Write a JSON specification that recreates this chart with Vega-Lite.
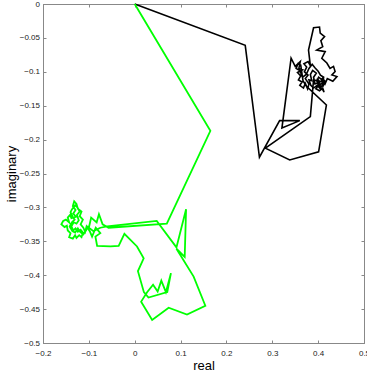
{
  "$schema": "https://vega.github.io/schema/vega-lite/v6.json",
  "width": 321,
  "height": 339,
  "autosize": {"type": "none"},
  "padding": {"left": 43, "top": 4, "right": 3, "bottom": 34},
  "background": "white",
  "config": {
    "view": {"stroke": "#888", "strokeWidth": 1},
    "axis": {
      "grid": false,
      "domainColor": "#888",
      "tickColor": "#888",
      "tickSize": -3,
      "labelFont": "Liberation Sans",
      "labelFontSize": 8,
      "labelColor": "#222",
      "labelOverlap": false,
      "labelFlush": false,
      "labelBound": false,
      "titleFont": "Liberation Sans",
      "titleFontSize": 13,
      "titleFontWeight": "normal",
      "titleColor": "#000"
    }
  },
  "datasets": {
    "black": [
      {"i": 0, "re": 0, "im": 0},
      {"i": 1, "re": 0.241, "im": -0.061},
      {"i": 2, "re": 0.272, "im": -0.226},
      {"i": 3, "re": 0.316, "im": -0.172},
      {"i": 4, "re": 0.36, "im": -0.172},
      {"i": 5, "re": 0.321, "im": -0.183},
      {"i": 6, "re": 0.341, "im": -0.08},
      {"i": 7, "re": 0.35, "im": -0.092},
      {"i": 8, "re": 0.361, "im": -0.085},
      {"i": 9, "re": 0.358, "im": -0.095},
      {"i": 10, "re": 0.366, "im": -0.097},
      {"i": 11, "re": 0.355, "im": -0.101},
      {"i": 12, "re": 0.362, "im": -0.106},
      {"i": 13, "re": 0.357, "im": -0.112},
      {"i": 14, "re": 0.365, "im": -0.115},
      {"i": 15, "re": 0.36, "im": -0.12},
      {"i": 16, "re": 0.368, "im": -0.124},
      {"i": 17, "re": 0.372, "im": -0.117},
      {"i": 18, "re": 0.377, "im": -0.125},
      {"i": 19, "re": 0.38, "im": -0.118},
      {"i": 20, "re": 0.372, "im": -0.11},
      {"i": 21, "re": 0.378, "im": -0.105},
      {"i": 22, "re": 0.37, "im": -0.1},
      {"i": 23, "re": 0.375, "im": -0.093},
      {"i": 24, "re": 0.369, "im": -0.088},
      {"i": 25, "re": 0.378, "im": -0.085},
      {"i": 26, "re": 0.383, "im": -0.091},
      {"i": 27, "re": 0.379, "im": -0.068},
      {"i": 28, "re": 0.39, "im": -0.035},
      {"i": 29, "re": 0.403, "im": -0.034},
      {"i": 30, "re": 0.4045, "im": -0.043},
      {"i": 31, "re": 0.414, "im": -0.048},
      {"i": 32, "re": 0.406, "im": -0.054},
      {"i": 33, "re": 0.41, "im": -0.063},
      {"i": 34, "re": 0.397, "im": -0.068},
      {"i": 35, "re": 0.4154, "im": -0.0702},
      {"i": 36, "re": 0.408, "im": -0.08},
      {"i": 37, "re": 0.419, "im": -0.087},
      {"i": 38, "re": 0.426, "im": -0.095},
      {"i": 39, "re": 0.4335, "im": -0.092},
      {"i": 40, "re": 0.437, "im": -0.0997},
      {"i": 41, "re": 0.43, "im": -0.1046},
      {"i": 42, "re": 0.441, "im": -0.107},
      {"i": 43, "re": 0.432, "im": -0.114},
      {"i": 44, "re": 0.42, "im": -0.11},
      {"i": 45, "re": 0.415, "im": -0.118},
      {"i": 46, "re": 0.41, "im": -0.112},
      {"i": 47, "re": 0.404, "im": -0.115},
      {"i": 48, "re": 0.398, "im": -0.11},
      {"i": 49, "re": 0.401, "im": -0.12},
      {"i": 50, "re": 0.395, "im": -0.125},
      {"i": 51, "re": 0.403, "im": -0.128},
      {"i": 52, "re": 0.41, "im": -0.124},
      {"i": 53, "re": 0.413, "im": -0.13},
      {"i": 54, "re": 0.406, "im": -0.122},
      {"i": 55, "re": 0.4, "im": -0.116},
      {"i": 56, "re": 0.393, "im": -0.118},
      {"i": 57, "re": 0.39, "im": -0.108},
      {"i": 58, "re": 0.396, "im": -0.102},
      {"i": 59, "re": 0.388, "im": -0.098},
      {"i": 60, "re": 0.383, "im": -0.104},
      {"i": 61, "re": 0.386, "im": -0.113},
      {"i": 62, "re": 0.38, "im": -0.112},
      {"i": 63, "re": 0.384, "im": -0.12},
      {"i": 64, "re": 0.39, "im": -0.124},
      {"i": 65, "re": 0.398, "im": -0.12},
      {"i": 66, "re": 0.405, "im": -0.125},
      {"i": 67, "re": 0.41, "im": -0.118},
      {"i": 68, "re": 0.412, "im": -0.108},
      {"i": 69, "re": 0.405, "im": -0.105},
      {"i": 70, "re": 0.4, "im": -0.099},
      {"i": 71, "re": 0.393, "im": -0.094},
      {"i": 72, "re": 0.387, "im": -0.089},
      {"i": 73, "re": 0.38, "im": -0.095},
      {"i": 74, "re": 0.374, "im": -0.104},
      {"i": 75, "re": 0.366, "im": -0.108},
      {"i": 76, "re": 0.36, "im": -0.098},
      {"i": 77, "re": 0.352, "im": -0.095},
      {"i": 78, "re": 0.356, "im": -0.088},
      {"i": 79, "re": 0.362, "im": -0.09},
      {"i": 80, "re": 0.367, "im": -0.113},
      {"i": 81, "re": 0.374, "im": -0.121},
      {"i": 82, "re": 0.418, "im": -0.149},
      {"i": 83, "re": 0.401, "im": -0.218},
      {"i": 84, "re": 0.338, "im": -0.23},
      {"i": 85, "re": 0.285, "im": -0.2127},
      {"i": 86, "re": 0.383, "im": -0.166},
      {"i": 87, "re": 0.39, "im": -0.112},
      {"i": 88, "re": 0.398, "im": -0.113},
      {"i": 89, "re": 0.404, "im": -0.119},
      {"i": 90, "re": 0.409, "im": -0.116},
      {"i": 91, "re": 0.407, "im": -0.111},
      {"i": 92, "re": 0.401, "im": -0.108},
      {"i": 93, "re": 0.397, "im": -0.114},
      {"i": 94, "re": 0.403, "im": -0.122},
      {"i": 95, "re": 0.411, "im": -0.121},
      {"i": 96, "re": 0.415, "im": -0.114},
      {"i": 97, "re": 0.408, "im": -0.109}
    ],
    "green": [
      {"i": 0, "re": 0, "im": 0},
      {"i": 1, "re": 0.165, "im": -0.187},
      {"i": 2, "re": 0.07, "im": -0.324},
      {"i": 3, "re": -0.057, "im": -0.33},
      {"i": 4, "re": -0.07, "im": -0.325},
      {"i": 5, "re": -0.078, "im": -0.31},
      {"i": 6, "re": -0.083, "im": -0.322},
      {"i": 7, "re": -0.095, "im": -0.315},
      {"i": 8, "re": -0.1, "im": -0.33},
      {"i": 9, "re": -0.09, "im": -0.335},
      {"i": 10, "re": -0.075, "im": -0.33},
      {"i": 11, "re": -0.06, "im": -0.328},
      {"i": 12, "re": 0.048, "im": -0.32},
      {"i": 13, "re": 0.091, "im": -0.359},
      {"i": 14, "re": 0.112, "im": -0.3026},
      {"i": 15, "re": 0.109, "im": -0.373},
      {"i": 16, "re": 0.091, "im": -0.361},
      {"i": 17, "re": 0.1285, "im": -0.402},
      {"i": 18, "re": 0.154, "im": -0.445},
      {"i": 19, "re": 0.114, "im": -0.458},
      {"i": 20, "re": 0.074, "im": -0.448},
      {"i": 21, "re": 0.038, "im": -0.466},
      {"i": 22, "re": 0.014, "im": -0.439},
      {"i": 23, "re": 0.027, "im": -0.425},
      {"i": 24, "re": 0.04, "im": -0.414},
      {"i": 25, "re": 0.05, "im": -0.424},
      {"i": 26, "re": 0.058, "im": -0.408},
      {"i": 27, "re": 0.068, "im": -0.425},
      {"i": 28, "re": 0.079, "im": -0.397},
      {"i": 29, "re": 0.071, "im": -0.425},
      {"i": 30, "re": 0.03, "im": -0.433},
      {"i": 31, "re": 0.02, "im": -0.425},
      {"i": 32, "re": 0.007, "im": -0.394},
      {"i": 33, "re": 0.0196, "im": -0.375},
      {"i": 34, "re": 0.005, "im": -0.3576},
      {"i": 35, "re": -0.0225, "im": -0.339},
      {"i": 36, "re": -0.035, "im": -0.3566},
      {"i": 37, "re": -0.053, "im": -0.3576},
      {"i": 38, "re": -0.082, "im": -0.3566},
      {"i": 39, "re": -0.0857, "im": -0.343},
      {"i": 40, "re": -0.075, "im": -0.338},
      {"i": 41, "re": -0.085, "im": -0.33},
      {"i": 42, "re": -0.093, "im": -0.343},
      {"i": 43, "re": -0.098, "im": -0.335},
      {"i": 44, "re": -0.105, "im": -0.328},
      {"i": 45, "re": -0.108, "im": -0.336},
      {"i": 46, "re": -0.112, "im": -0.33},
      {"i": 47, "re": -0.118, "im": -0.325},
      {"i": 48, "re": -0.113, "im": -0.318},
      {"i": 49, "re": -0.12, "im": -0.313},
      {"i": 50, "re": -0.116, "im": -0.306},
      {"i": 51, "re": -0.124, "im": -0.302},
      {"i": 52, "re": -0.127, "im": -0.295},
      {"i": 53, "re": -0.132, "im": -0.291},
      {"i": 54, "re": -0.135, "im": -0.298},
      {"i": 55, "re": -0.129, "im": -0.304},
      {"i": 56, "re": -0.134, "im": -0.309},
      {"i": 57, "re": -0.128, "im": -0.314},
      {"i": 58, "re": -0.138, "im": -0.316},
      {"i": 59, "re": -0.141, "im": -0.311},
      {"i": 60, "re": -0.146, "im": -0.315},
      {"i": 61, "re": -0.143, "im": -0.322},
      {"i": 62, "re": -0.15, "im": -0.318},
      {"i": 63, "re": -0.156, "im": -0.32},
      {"i": 64, "re": -0.16, "im": -0.325},
      {"i": 65, "re": -0.153, "im": -0.329},
      {"i": 66, "re": -0.148, "im": -0.327},
      {"i": 67, "re": -0.146, "im": -0.334},
      {"i": 68, "re": -0.14, "im": -0.338},
      {"i": 69, "re": -0.143, "im": -0.344},
      {"i": 70, "re": -0.135, "im": -0.346},
      {"i": 71, "re": -0.13, "im": -0.341},
      {"i": 72, "re": -0.127, "im": -0.345},
      {"i": 73, "re": -0.121, "im": -0.341},
      {"i": 74, "re": -0.116, "im": -0.344},
      {"i": 75, "re": -0.113, "im": -0.337},
      {"i": 76, "re": -0.118, "im": -0.333},
      {"i": 77, "re": -0.124, "im": -0.336},
      {"i": 78, "re": -0.129, "im": -0.331},
      {"i": 79, "re": -0.134, "im": -0.334},
      {"i": 80, "re": -0.138, "im": -0.328},
      {"i": 81, "re": -0.133, "im": -0.322},
      {"i": 82, "re": -0.127, "im": -0.324},
      {"i": 83, "re": -0.122, "im": -0.319},
      {"i": 84, "re": -0.126, "im": -0.311},
      {"i": 85, "re": -0.12, "im": -0.306},
      {"i": 86, "re": -0.125, "im": -0.3},
      {"i": 87, "re": -0.13, "im": -0.297},
      {"i": 88, "re": -0.137, "im": -0.303},
      {"i": 89, "re": -0.14, "im": -0.307},
      {"i": 90, "re": -0.135, "im": -0.314},
      {"i": 91, "re": -0.131, "im": -0.318},
      {"i": 92, "re": -0.137, "im": -0.322},
      {"i": 93, "re": -0.142, "im": -0.328},
      {"i": 94, "re": -0.136, "im": -0.335},
      {"i": 95, "re": -0.13, "im": -0.337},
      {"i": 96, "re": -0.124, "im": -0.331},
      {"i": 97, "re": -0.119, "im": -0.336},
      {"i": 98, "re": -0.112, "im": -0.34},
      {"i": 99, "re": -0.106, "im": -0.334},
      {"i": 100, "re": -0.102, "im": -0.327}
    ]
  },
  "layer": [
    {
      "data": {"name": "black"},
      "mark": {"type": "line", "color": "#000000", "strokeWidth": 1.6},
      "encoding": {
        "x": {
          "field": "re", "type": "quantitative",
          "scale": {"domain": [-0.2, 0.5], "nice": false, "zero": false},
          "axis": {"orient": "bottom", "title": "real", "values": [-0.2, -0.1, 0, 0.1, 0.2, 0.3, 0.4, 0.5], "format": ".1~f", "labelPadding": 9, "titlePadding": 2}
        },
        "y": {
          "field": "im", "type": "quantitative",
          "scale": {"domain": [-0.5, 0], "nice": false, "zero": false},
          "axis": {"orient": "left", "title": "imaginary", "values": [-0.5, -0.45, -0.4, -0.35, -0.3, -0.25, -0.2, -0.15, -0.1, -0.05, 0], "format": ".2~f", "labelPadding": 6.5, "titlePadding": 1}
        },
        "order": {"field": "i", "type": "quantitative"}
      }
    },
    {
      "data": {"name": "green"},
      "mark": {"type": "line", "color": "#00ff00", "strokeWidth": 1.8},
      "encoding": {
        "x": {
          "field": "re", "type": "quantitative",
          "axis": {"orient": "top", "title": null, "labels": false, "values": [-0.2, -0.1, 0, 0.1, 0.2, 0.3, 0.4, 0.5]}
        },
        "y": {
          "field": "im", "type": "quantitative",
          "axis": {"orient": "right", "title": null, "labels": false, "values": [-0.5, -0.45, -0.4, -0.35, -0.3, -0.25, -0.2, -0.15, -0.1, -0.05, 0]}
        },
        "order": {"field": "i", "type": "quantitative"}
      }
    }
  ],
  "resolve": {"axis": {"x": "independent", "y": "independent"}}
}
